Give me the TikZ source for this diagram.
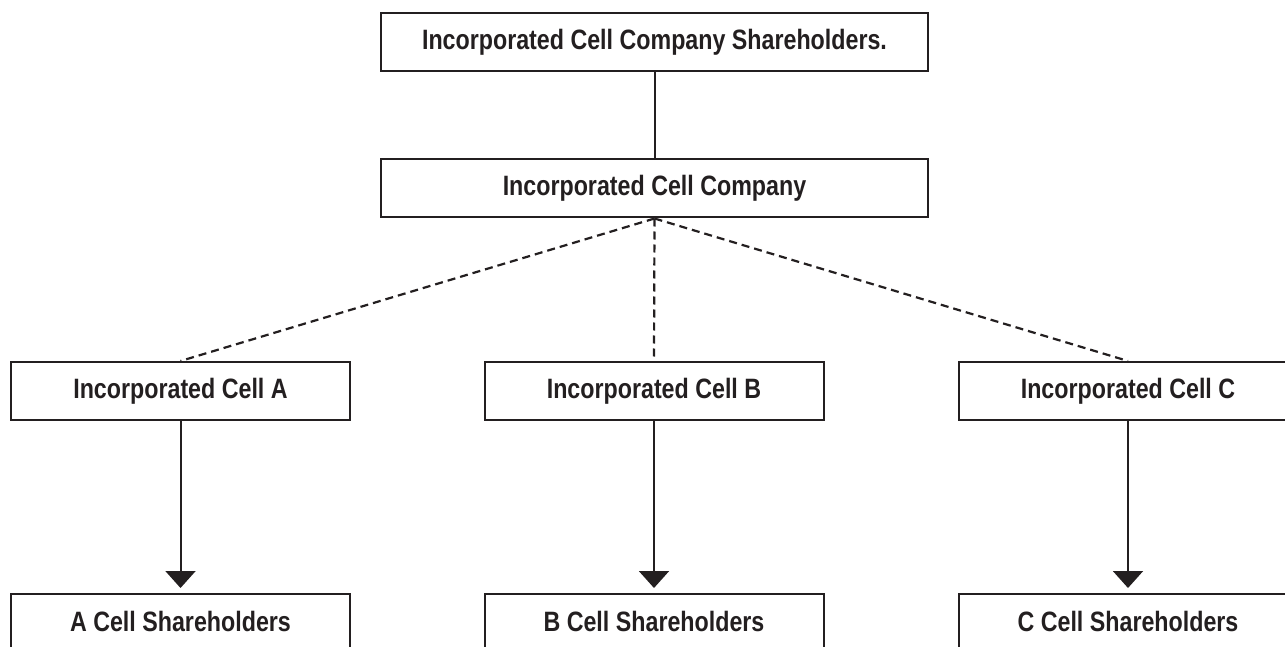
\documentclass[tikz,border=0pt]{standalone}
\usepackage{fontspec}
\setmainfont[FakeStretch=0.83]{Liberation Sans}
\usetikzlibrary{arrows.meta}
\definecolor{ink}{HTML}{231F20}
\tikzset{
  box/.style={draw=ink, line width=2pt, minimum height=58pt, inner sep=0pt,
    font=\bfseries\fontsize{28}{30}\selectfont, text=ink},
  wide/.style={box, minimum width=547pt},
  cellbox/.style={box, minimum width=339pt},
  solidline/.style={draw=ink, line width=2pt},
  dashline/.style={draw=ink, line width=2.2pt, dash pattern=on 8pt off 5pt},
  arrowline/.style={draw=ink, line width=2pt, shorten >=5pt,
    -{Triangle[width=30pt,length=17pt]}}
}
\begin{document}
\begin{tikzpicture}[x=1pt,y=-1pt]
\useasboundingbox (0,0) rectangle (1285,647);
\clip (0,0) rectangle (1285,647);
\node[wide] (top) at (654.5,42) {Incorporated Cell Company Shareholders.};
\node[wide] (icc) at (654.5,188.5) {Incorporated Cell Company};
\node[cellbox] (ca) at (180.5,391) {Incorporated Cell A};
\node[cellbox] (cb) at (654,391) {Incorporated Cell B};
\node[cellbox] (cc) at (1128,391) {Incorporated Cell C};
\node[cellbox] (sa) at (180.5,623) {\raisebox{3pt}{A Cell Shareholders}};
\node[cellbox] (sb) at (654,623) {\raisebox{3pt}{B Cell Shareholders}};
\node[cellbox] (sc) at (1128,623) {\raisebox{3pt}{C Cell Shareholders}};
\draw[solidline] (top.south) -- (icc.north);
\draw[dashline] (icc.south) -- (ca.north);
\draw[dashline] (icc.south) -- (cb.north);
\draw[dashline] (icc.south) -- (cc.north);
\draw[arrowline] (ca.south) -- (sa.north);
\draw[arrowline] (cb.south) -- (sb.north);
\draw[arrowline] (cc.south) -- (sc.north);
\end{tikzpicture}
\end{document}
